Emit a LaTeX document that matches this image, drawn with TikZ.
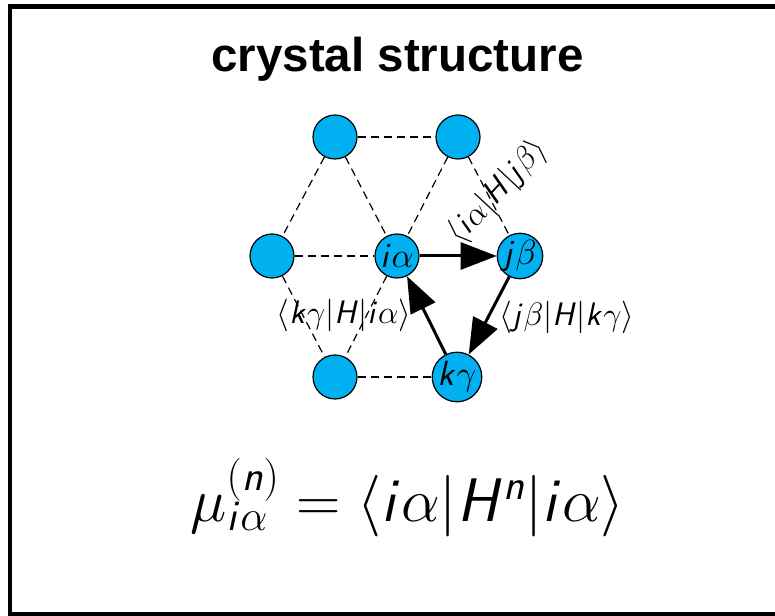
\documentclass[tikz,border=0pt]{standalone}
\usepackage{fix-cm}
\usepackage{fontspec}
\usetikzlibrary{arrows.meta}
\newfontfamily\titlefont{Liberation Sans}
\definecolor{Site}{HTML}{00B0F0}
% sans slanted letters in math, greek stays as it is
\DeclareSymbolFont{sfletters}{OT1}{cmss}{m}{sl}
\DeclareMathSymbol{i}{\mathalpha}{sfletters}{`i}
\DeclareMathSymbol{j}{\mathalpha}{sfletters}{`j}
\DeclareMathSymbol{k}{\mathalpha}{sfletters}{`k}
\DeclareMathSymbol{n}{\mathalpha}{sfletters}{`n}
\DeclareMathSymbol{H}{\mathalpha}{sfletters}{`H}

\begin{document}
\begin{tikzpicture}[x=1pt,y=1pt,>=Triangle,site/.style={circle, draw=black, fill=Site, line width=1.2pt, minimum size=44pt, inner sep=0pt, font=\fontsize{35}{40}\selectfont},bond/.style={dash pattern=on 8pt off 5pt, line width=1.2pt},hop/.style={-{Triangle[length=36pt,width=27pt]}, line width=3pt},hoplabel/.style={inner sep=0pt, font=\fontsize{32.5}{36}\selectfont},titletext/.style={font=\titlefont\bfseries\fontsize{47.5}{57}\selectfont},eqtext/.style={font=\fontsize{61.5}{72}\selectfont}]
\useasboundingbox (0,0) rectangle (775,615);
\draw[line width=4.5pt] (800,608.5) -| (10,0.3) -- (800,0.3);
\node[titletext, anchor=base] (title) at (397.5,543) {crystal structure};
% lattice sites
\node[site] (tl) at (335,478) {}; \node[site] (tr) at (458,478) {};
\node[site] (ml) at (272,359) {}; \node[site] (ia) at (397,359) {$i\alpha$}; \node[site] (jb) at (520,359) {$j\beta$};
\node[site] (bl) at (335,238) {}; \node[site] (kg) at (457,238) {$k\gamma$};
% bonds
\draw[bond] (tl) -- (tr); \draw[bond] (tl) -- (ml); \draw[bond] (tl) -- (ia);
\draw[bond] (tr) -- (ia); \draw[bond] (tr) -- (jb); \draw[bond] (ml) -- (ia);
\draw[bond] (ml) -- (bl); \draw[bond] (ia) -- (bl); \draw[bond] (bl) -- (kg);
% hopping path
\draw[hop] (ia) -- (jb); \draw[hop] (jb) -- (kg); \draw[hop] (kg) -- (ia);
\node[hoplabel, rotate=47] (hij) at (498,423) {$\langle i\alpha|H|j\beta\rangle$};
\node[hoplabel] (hjk) at (567,298) {$\langle j\beta|H|k\gamma\rangle$};
\node[hoplabel] (hki) at (344,300) {$\langle k\gamma|H|i\alpha\rangle$};
\node[eqtext, anchor=base] (moment) at (407.5,93) {$\mu_{i\alpha}^{(n)}=\langle i\alpha|H^n|i\alpha\rangle$};
\end{tikzpicture}
\end{document}
